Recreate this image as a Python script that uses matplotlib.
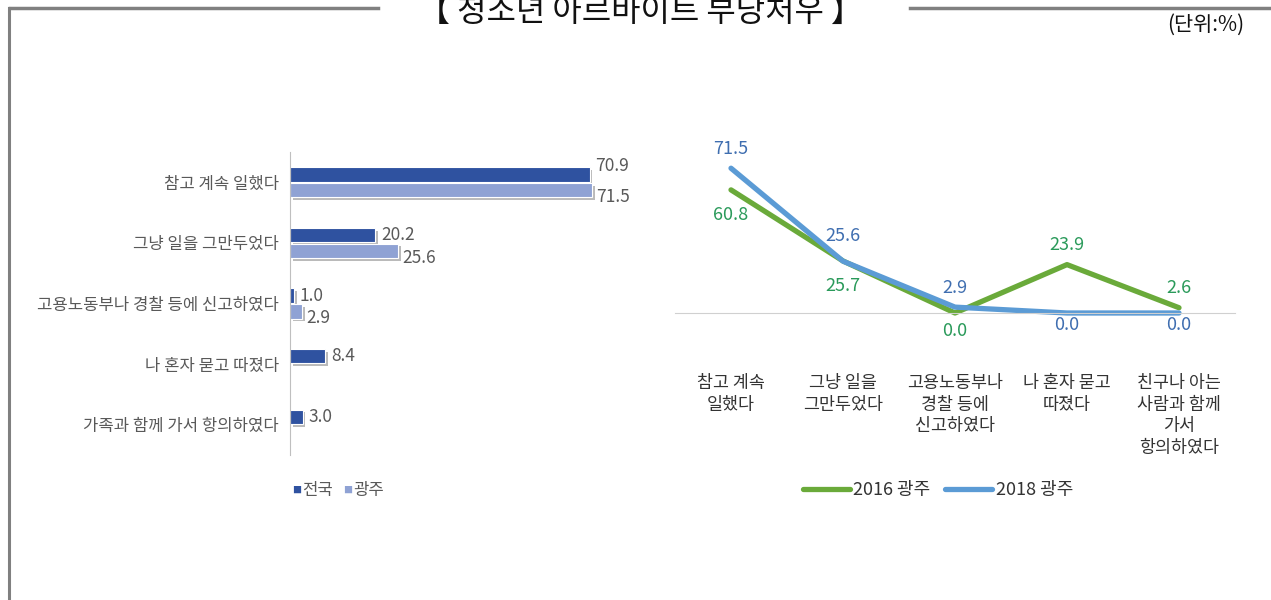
import numpy as np
import matplotlib
matplotlib.use("Agg")
import matplotlib.pyplot as plt
import matplotlib.patheffects as pe
from matplotlib.lines import Line2D

plt.rcParams['font.family'] = ['Noto Sans CJK KR', 'DejaVu Sans']

# Data
bar_cats = ["참고 계속 일했다", "그냥 일을 그만두었다", "고용노동부나 경찰 등에 신고하였다",
            "나 혼자 묻고 따졌다", "가족과 함께 가서 항의하였다"]
nation = [70.9, 20.2, 1.0, 8.4, 3.0]
gwangju = [71.5, 25.6, 2.9, None, None]

line_cats = ["참고 계속\n일했다", "그냥 일을\n그만두었다", "고용노동부나\n경찰 등에\n신고하였다",
             "나 혼자 묻고\n따졌다", "친구나 아는\n사람과 함께\n가서\n항의하였다"]
gj_2016 = [60.8, 25.7, 0.0, 23.9, 2.6]
gj_2018 = [71.5, 25.6, 2.9, 0.0, 0.0]

C_NAT = "#2F52A0"
C_GJ = "#8FA2D4"
C_16 = "#6AAA3A"
C_18 = "#5B9BD5"
T_16 = "#2A9A5A"
T_18 = "#3F6EB0"

fig = plt.figure(figsize=(12.71, 6.0), dpi=100)

# frame lines and title
fig.add_artist(Line2D([10/1271, 378/1271], [1 - 8/600] * 2, color="#808080", lw=2.5))
fig.add_artist(Line2D([910/1271, 1], [1 - 8/600] * 2, color="#808080", lw=2.5))
fig.add_artist(Line2D([9/1271] * 2, [0, 1 - 8/600], color="#808080", lw=2.2))
fig.text(640/1271, 1 - 12/600, "【 청소년 아르바이트 부당처우 】", ha="center", va="center",
         fontsize=23, color="#111111")
fig.text(1206/1271, 1 - 25/600, "(단위:%)", ha="center", va="center", fontsize=15, color="#111111")

# ---- left: horizontal bars ----
ax1 = fig.add_axes([290/1271, 1 - 455/600, 338/1271, 303/600])
y = np.arange(len(bar_cats))
h = 0.24
shadow = [pe.SimplePatchShadow(offset=(2, -2), shadow_rgbFace="#777777", alpha=0.5), pe.Normal()]
for i, (n, g) in enumerate(zip(nation, gwangju)):
    b = ax1.barh(i - 0.13, n, height=h, color=C_NAT, edgecolor="white", linewidth=0.8)
    b[0].set_path_effects(shadow)
    dy = 6 if i == 0 else 0
    ax1.annotate(f"{n:.1f}", (n, i - 0.13), xytext=(4, dy), textcoords="offset points",
                 va="center", ha="left", fontsize=12.5, color="#595959")
    if g is not None:
        b = ax1.barh(i + 0.13, g, height=h, color=C_GJ, edgecolor="white", linewidth=0.8)
        b[0].set_path_effects(shadow)
        ax1.annotate(f"{g:.1f}", (g, i + 0.13), xytext=(3, -5), textcoords="offset points",
                     va="center", ha="left", fontsize=12.5, color="#595959")
ax1.set_xlim(0, 80)
ax1.set_ylim(len(bar_cats) - 0.5, -0.5)
ax1.set_yticks(y)
ax1.set_yticklabels(bar_cats, fontsize=12, color="#595959")
ax1.tick_params(axis="y", length=0, pad=8)
ax1.set_xticks([])
for s in ["top", "right", "bottom"]:
    ax1.spines[s].set_visible(False)
ax1.spines["left"].set_color("#BFBFBF")
ax1.set_facecolor("none")

# left legend
fig.text(292/1271, 1 - 490/600, "■", color=C_NAT, fontsize=6.5, va="center", ha="left")
fig.text(302/1271, 1 - 490/600, "전국", color="#595959", fontsize=12, va="center", ha="left")
fig.text(343/1271, 1 - 490/600, "■", color=C_GJ, fontsize=6.5, va="center", ha="left")
fig.text(353/1271, 1 - 490/600, "광주", color="#595959", fontsize=12, va="center", ha="left")

# ---- right: lines ----
ax2 = fig.add_axes([675/1271, 1 - 313/600, 560/1271, 162/600])
x = np.arange(len(line_cats))
ax2.plot(x, gj_2016, color=C_16, lw=3.8, solid_capstyle="round", clip_on=False, label="2016 광주")
ax2.plot(x, gj_2018, color=C_18, lw=3.8, solid_capstyle="round", clip_on=False, label="2018 광주")
off16 = [-18, -18, -13, 14, 14]
off18 = [14, 18, 14, -9, -9]
for i in range(len(x)):
    ax2.annotate(f"{gj_2016[i]:.1f}", (x[i], gj_2016[i]), xytext=(0, off16[i]), textcoords="offset points",
                 ha="center", va="center", fontsize=13, color=T_16)
    ax2.annotate(f"{gj_2018[i]:.1f}", (x[i], gj_2018[i]), xytext=(0, off18[i]), textcoords="offset points",
                 ha="center", va="center", fontsize=13, color=T_18)
ax2.set_xlim(-0.5, len(x) - 0.5)
ax2.set_ylim(0, 80)
ax2.set_xticks(x)
ax2.set_xticklabels(line_cats, fontsize=12.5, color="#333333", linespacing=1.25)
ax2.tick_params(axis="x", length=0, pad=44)
ax2.set_yticks([])
for s in ["top", "right", "left"]:
    ax2.spines[s].set_visible(False)
ax2.spines["bottom"].set_color("#D0D0D0")
ax2.set_facecolor("none")
ax2.legend(loc="center", bbox_to_anchor=(938/1271, 1 - 490/600), bbox_transform=fig.transFigure,
           ncol=2, frameon=False, fontsize=13, handlelength=2.6, columnspacing=0.8,
           handletextpad=0.2, labelcolor="#333333")

fig.savefig("out.png", dpi=100)
